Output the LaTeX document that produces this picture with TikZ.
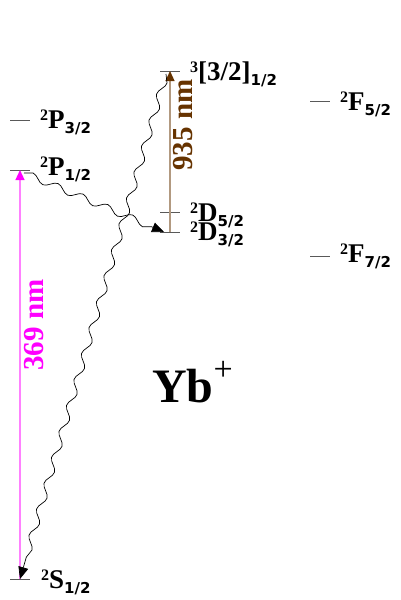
\documentclass[tikz,border=0pt]{standalone}
\usepackage{fontspec}
\setmainfont{Liberation Serif}
\newfontfamily\subfont{DejaVu Sans}
\usetikzlibrary{arrows.meta,decorations.pathmorphing}
\definecolor{laserpink}{HTML}{FF00FF}
\definecolor{laserbrown}{HTML}{663300}
% term symbol: superscript, letter, subscript
\newcommand{\term}[3]{\raisebox{7.5pt}{\fontsize{16}{16}\selectfont #1}#2\raisebox{-5.5pt}{\subfont\fontsize{15}{15}\selectfont #3}}
\begin{document}
\begin{tikzpicture}[x=1pt,y=-1pt,
  lvl/.style={draw=gray!70!black,line width=0.9pt},
  lbl/.style={inner sep=0pt,anchor=base west,font=\fontsize{27}{30}\selectfont\bfseries},
  laser/.style={line width=1.2pt},
  wavelbl/.style={inner sep=0pt,rotate=90,font=\fontsize{29}{30}\selectfont\bfseries},
  decay/.style={draw=black,line width=0.7pt,
    -{Triangle[length=12pt,width=10pt]},
    decorate,decoration={snake,amplitude=3.5pt,segment length=27pt,post length=12pt}}]
\useasboundingbox (0,0) rectangle (400,600);

% levels
\coordinate (S12) at (20,579);
\coordinate (P12) at (20,170);
\coordinate (P32) at (20,120);
\coordinate (T)   at (170,71);
\coordinate (D52) at (170,212);
\coordinate (D32) at (170,232);
\coordinate (F52) at (320,101);
\coordinate (F72) at (320,256);
\foreach \lev in {S12,P12,P32,T,D52,D32,F52,F72}
  \draw[lvl] (\lev) ++(-10,0) -- ++(20,0);

% labels
\node[lbl] (lS12) at ([xshift=21pt,yshift=-9pt]S12) {\term{2}{S}{1/2}};
\node[lbl] (lP12) at ([xshift=20pt,yshift=-5pt]P12) {\term{2}{P}{1/2}};
\node[lbl] (lP32) at ([xshift=20pt,yshift=-8pt]P32) {\term{2}{P}{3/2}};
\node[lbl] (lT)   at ([xshift=20pt,yshift=-9pt]T)   {\term{3}{[3/2]}{1/2}};
\node[lbl] (lD52) at ([xshift=20pt,yshift=-9pt]D52) {\term{2}{D}{5/2}};
\node[lbl] (lD32) at ([xshift=20pt,yshift=-8pt]D32) {\term{2}{D}{3/2}};
\node[lbl] (lF52) at ([xshift=20pt,yshift=-9pt]F52) {\term{2}{F}{5/2}};
\node[lbl] (lF72) at ([xshift=20pt,yshift=-6pt]F72) {\term{2}{F}{7/2}};

\node[inner sep=0pt,anchor=base west,font=\fontsize{48}{50}\selectfont\bfseries] (ion) at (152,402)
  {Yb\raisebox{22pt}{\mdseries\fontsize{34}{34}\selectfont +}};

% lasers
\draw[laser,draw=laserpink!50,-{Triangle[length=10pt,width=9pt,color=laserpink]}] (S12) -- (P12);
\node[wavelbl,text=laserpink] (l369) at (34,325) {369 nm};
\draw[laser,draw=laserbrown!50,-{Triangle[length=10pt,width=9pt,color=laserbrown]}] (D32) -- (T);
\node[wavelbl,text=laserbrown] (l935) at (183,125) {935 nm};

% decays
\draw[decay] ([xshift=-4pt,yshift=-3pt]T) -- (S12);
\draw[decay] ([xshift=4pt,yshift=-3pt]P12) -- ([xshift=-6pt]D32);
\end{tikzpicture}
\end{document}
